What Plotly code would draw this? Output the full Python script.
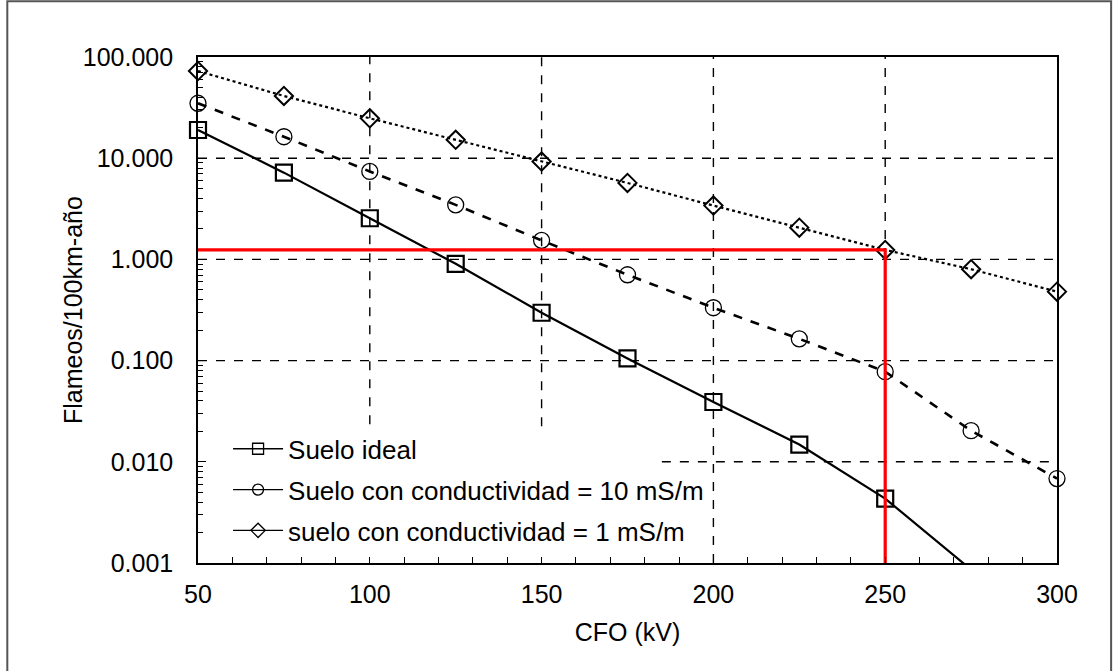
import plotly.graph_objects as go

cfo_kv = [50, 75, 100, 125, 150, 175, 200, 225, 250, 275, 300]

suelo_ideal = [19.0, 7.2, 2.55, 0.905, 0.297, 0.105, 0.039, 0.0148, 0.00433, 0.00086, None]
suelo_10ms = [34.9, 16.3, 7.4, 3.46, 1.54, 0.705, 0.333, 0.164, 0.0777, 0.0203, 0.00683]
suelo_1ms = [72.7, 41.2, 24.8, 15.2, 9.26, 5.7, 3.4, 2.06, 1.24, 0.80, 0.48]

ref_x = [50, 250, 250]
ref_y = [1.24, 1.24, 0.001]

y_tickvals = [100, 10, 1, 0.1, 0.01, 0.001]
y_ticktext = ["100.000", "10.000", "1.000", "0.100", "0.010", "0.001"]
x_tickvals = [50, 100, 150, 200, 250, 300]

names = ["Suelo ideal", "Suelo con conductividad = 10 mS/m", "suelo con conductividad = 1 mS/m"]

FONT = "Liberation Sans, Arial, sans-serif"
FS = 25
Y_MIN = 0.001

def in_range_opacity(vals):
    return [1 if (v is not None and v >= Y_MIN) else 0 for v in vals]

series = [
    (suelo_ideal, "solid", 2.2, "square-open", 16, 2.2),
    (suelo_10ms, "dash", 2.6, "circle-open", 16, 1.3),
    (suelo_1ms, "dot", 2.2, "diamond-open", 14, 2.0),
]

fig = go.Figure()

for (vals, dash, lw, sym, ms, mlw), name in zip(series, names):
    fig.add_trace(go.Scatter(
        x=cfo_kv, y=vals, name=name, mode="lines+markers", showlegend=False,
        cliponaxis=False,
        line=dict(color="black", width=lw, dash=dash),
        marker=dict(symbol=sym, size=ms, color="black", opacity=in_range_opacity(vals),
                    line=dict(width=mlw, color="black"))))

# legend entries (solid line with small marker, like the reference)
for (vals, dash, lw, sym, ms, mlw), name in zip(series, names):
    fig.add_trace(go.Scatter(
        x=[None], y=[None], name=name, mode="lines+markers", legendgroup=name,
        line=dict(color="black", width=1.3),
        marker=dict(symbol=sym, size=11, color="black", line=dict(width=1.3, color="black"))))

fig.add_trace(go.Scatter(
    x=ref_x, y=ref_y, mode="lines", showlegend=False,
    line=dict(color="#ff0000", width=3.2), hoverinfo="skip"))

grid = dict(type="line", layer="below", line=dict(color="black", width=1.4, dash="dash"))
# vertical gridlines (partially hidden behind legend)
for xv, y0 in [(100, 0.0235), (150, 0.0225), (200, 0.001), (250, 0.001)]:
    fig.add_shape(x0=xv, x1=xv, y0=y0, y1=100, xref="x", yref="y", **grid)
# horizontal gridlines
for yv, x0 in [(10, 50), (1, 50), (0.1, 50), (0.01, 185)]:
    fig.add_shape(x0=x0, x1=300, y0=yv, y1=yv, xref="x", yref="y", **grid)

# outer frame
fig.add_shape(type="rect", xref="paper", yref="paper", x0=-0.222, x1=1.063, y0=-0.22, y1=1.11,
              line=dict(color="#555555", width=2), fillcolor="rgba(0,0,0,0)", layer="below")

# y-axis title
fig.add_annotation(text="Flameos/100km-año", xref="paper", yref="paper",
                   x=-0.1455, y=0.50, xanchor="center", yanchor="middle",
                   textangle=-90, showarrow=False, font=dict(size=FS, family=FONT))

fig.update_layout(
    width=1114, height=671,
    margin=dict(l=198, r=57, t=57, b=108),
    paper_bgcolor="white", plot_bgcolor="white",
    font=dict(family=FONT, size=FS, color="black"),
    showlegend=True,
    legend=dict(x=0.035, y=0.272, xanchor="left", yanchor="top",
                bgcolor="rgba(255,255,255,0)", font=dict(size=26, family=FONT),
                tracegroupgap=4, itemwidth=50),
    xaxis=dict(
        range=[50, 300], tickvals=x_tickvals, ticks="inside", ticklen=6, tickwidth=1.4,
        tickcolor="black", showgrid=False, zeroline=False,
        showline=True, linecolor="black", linewidth=1.6, mirror=True,
        ticklabelstandoff=8,
        minor=dict(ticks="inside", ticklen=6, dtick=10, tickcolor="black", tickwidth=1.4, showgrid=False),
        title=dict(text="CFO (kV)", font=dict(size=FS, family=FONT), standoff=17),
        tickfont=dict(size=FS, family=FONT)),
    yaxis=dict(
        type="log", range=[-3, 2], tickvals=y_tickvals, ticktext=y_ticktext,
        ticks="inside", ticklen=8, tickwidth=1.4, tickcolor="black", showgrid=False,
        zeroline=False, showline=True, linecolor="black", linewidth=1.6, mirror=True,
        ticklabelstandoff=18,
        minor=dict(ticks="inside", ticklen=5, dtick="D1", tickcolor="black", tickwidth=1.2, showgrid=False),
        tickfont=dict(size=FS, family=FONT)),
)

fig.write_html("out.html")
